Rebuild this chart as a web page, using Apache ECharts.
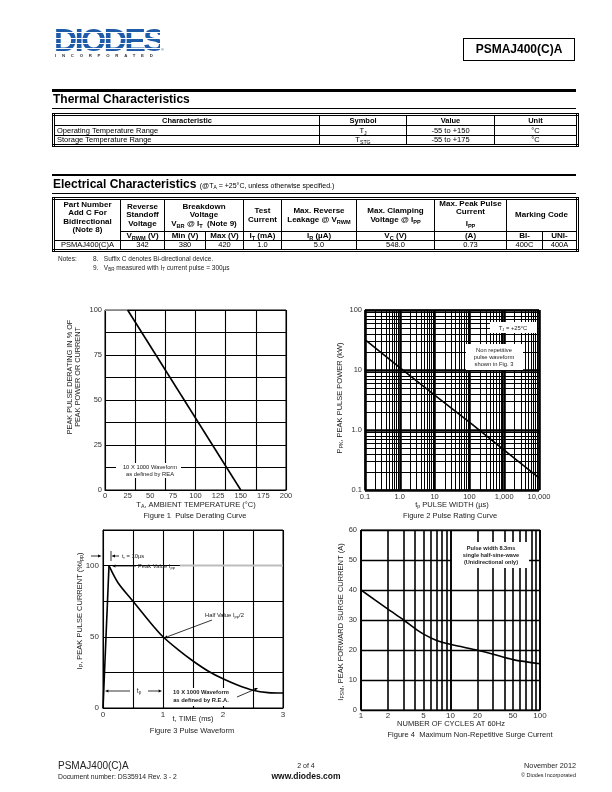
<!DOCTYPE html>
<html><head><meta charset="utf-8">
<script src="https://cdn.jsdelivr.net/npm/echarts@6/dist/echarts.min.js"></script>
<style>
html,body{margin:0;padding:0;background:#fff;}
#page{position:relative;width:612px;height:792px;overflow:hidden;font-family:'Liberation Sans',Arial,sans-serif;color:#000;}
#chart{position:absolute;left:0;top:0;width:612px;height:792px;}
.abs{position:absolute;white-space:nowrap;}
table.t{border-collapse:collapse;table-layout:fixed;position:absolute;border:3px double #000;}
table.t td{padding:0;border:1px solid #000;overflow:hidden;text-align:center;white-space:nowrap;}
sub{font-size:0.7em;vertical-align:-0.3em;line-height:0;}
.hd td{font-weight:bold;font-size:8px;line-height:8.3px;}
.th td{font-weight:bold;font-size:7.5px;line-height:9px;}
.dt td{font-size:7.5px;line-height:8px;}
.logo{position:absolute;left:54px;top:28px;width:106px;height:24px;font-family:'Liberation Sans',Arial,sans-serif;font-weight:bold;font-size:32px;letter-spacing:-2.4px;line-height:24px;
 background:repeating-linear-gradient(to bottom,#1d5aa7 0px,#1d5aa7 4.4px,#ffffff 4.4px,#ffffff 5.3px);-webkit-background-clip:text;background-clip:text;color:transparent;}
</style></head>
<body><div id="page">
<div id="chart"></div>

<!-- Header -->
<div class="logo">DIODES</div>
<div class="abs" style="left:161px;top:48px;font-size:4px;line-height:4px;color:#1d5aa7;">®</div>
<div class="abs" style="left:55px;top:53px;font-size:4.3px;line-height:5px;font-weight:bold;letter-spacing:5.75px;color:#333;">INCORPORATED</div>
<div class="abs" style="left:463px;top:38px;width:110px;height:21px;border:1.5px solid #000;font-size:12px;font-weight:bold;text-align:center;line-height:21px;">PSMAJ400(C)A</div>

<!-- Thermal -->
<div class="abs" style="left:52px;top:89px;width:524px;height:2.5px;background:#000;"></div>
<div class="abs" style="left:53px;top:92px;font-size:12px;font-weight:bold;line-height:15px;">Thermal Characteristics</div>
<div class="abs" style="left:52px;top:108px;width:524px;height:1px;background:#000;"></div>
<table class="t" style="left:52px;top:113px;width:524px;">
<colgroup><col style="width:266px"><col style="width:87px"><col style="width:88px"><col style="width:83px"></colgroup>
<tr class="th" style="height:9.5px"><td>Characteristic</td><td>Symbol</td><td>Value</td><td>Unit</td></tr>
<tr class="dt" style="height:10px"><td style="text-align:left;padding-left:2px;">Operating Temperature Range</td><td>T<sub>J</sub></td><td>-55 to +150</td><td>°C</td></tr>
<tr class="dt" style="height:10px"><td style="text-align:left;padding-left:2px;">Storage Temperature Range</td><td>T<sub>STG</sub></td><td>-55 to +175</td><td>°C</td></tr>
</table>

<!-- Electrical -->
<div class="abs" style="left:52px;top:173.5px;width:524px;height:2.5px;background:#000;"></div>
<div class="abs" style="left:53px;top:177px;font-size:12px;font-weight:bold;line-height:15px;">Electrical Characteristics <span style="font-size:7px;font-weight:normal;">(@T<sub>A</sub> = +25°C, unless otherwise specified.)</span></div>
<div class="abs" style="left:52px;top:193px;width:524px;height:1px;background:#000;"></div>
<table class="t" style="left:52px;top:197px;width:524px;">
<colgroup><col style="width:67px"><col style="width:44px"><col style="width:41px"><col style="width:38px"><col style="width:38px"><col style="width:75px"><col style="width:78px"><col style="width:72px"><col style="width:36px"><col style="width:35px"></colgroup>
<tr class="hd" style="height:33px">
<td rowspan="2" style="vertical-align:top;padding-top:1px;">Part Number<br>Add C For<br>Bidirectional<br>(Note 8)</td>
<td>Reverse<br>Standoff<br>Voltage</td>
<td colspan="2">Breakdown<br>Voltage<br>V<sub>BR</sub> @ I<sub>T</sub> &nbsp;(Note 9)</td>
<td>Test<br>Current</td>
<td>Max. Reverse<br>Leakage @ V<sub>RWM</sub></td>
<td>Max. Clamping<br>Voltage @ I<sub>PP</sub></td>
<td style="vertical-align:top;">Max. Peak Pulse<br>Current<br><span style="line-height:13px;">I<sub>PP</sub></span></td>
<td colspan="2">Marking Code</td>
</tr>
<tr class="hd" style="height:9px"><td>V<sub>RWM</sub> (V)</td><td>Min (V)</td><td>Max (V)</td><td>I<sub>T</sub> (mA)</td><td>I<sub>R</sub> (µA)</td><td>V<sub>C</sub> (V)</td><td>(A)</td><td>BI-</td><td>UNI-</td></tr>
<tr class="dt" style="height:8.5px"><td>PSMAJ400(C)A</td><td>342</td><td>380</td><td>420</td><td>1.0</td><td>5.0</td><td>548.0</td><td>0.73</td><td>400C</td><td>400A</td></tr>
</table>
<div class="abs" style="left:58px;top:254px;font-size:6.5px;line-height:9px;color:#222;">Notes:</div>
<div class="abs" style="left:93px;top:254px;font-size:6.5px;line-height:9px;color:#222;">8.&nbsp;&nbsp; Suffix C denotes Bi-directional device.<br>9.&nbsp;&nbsp; V<sub>BR</sub> measured with I<sub>T</sub> current pulse = 300µs</div>

<!-- Footer -->
<div class="abs" style="left:58px;top:760px;font-size:10px;line-height:12px;color:#222;">PSMAJ400(C)A</div>
<div class="abs" style="left:58px;top:773px;font-size:6.8px;line-height:8px;color:#222;">Document number: DS35914 Rev. 3 - 2</div>
<div class="abs" style="left:256px;width:100px;top:762px;font-size:7px;line-height:8px;text-align:center;color:#222;">2 of 4</div>
<div class="abs" style="left:256px;width:100px;top:771px;font-size:8.5px;line-height:10px;text-align:center;font-weight:bold;color:#111;">www.diodes.com</div>
<div class="abs" style="right:36px;top:762px;font-size:7.3px;line-height:8px;text-align:right;color:#222;">November 2012</div>
<div class="abs" style="right:36px;top:772px;font-size:5.5px;line-height:7px;text-align:right;color:#222;">© Diodes Incorporated</div>
</div>

<script>
// ---------------- DATA ----------------
// Figure 1 Pulse Derating Curve
const fig1TempTicks = [0, 25, 50, 75, 100, 125, 150, 175, 200];
const fig1PctTicks = [0, 25, 50, 75, 100];
const fig1FlatTemp = [0, 25];
const fig1FlatPct = [100, 100];
const fig1SlopeTemp = [25, 150];
const fig1SlopePct = [100, 0];

// Figure 2 Pulse Rating Curve
const fig2WidthUs = [0.1, 1, 10, 100, 1000, 10000];
const fig2PowerKW = [32, 11, 3.8, 1.35, 0.46, 0.16];
const fig2XTickLabels = ['0.1', '1.0', '10', '100', '1,000', '10,000'];
const fig2YTickLabels = ['0.1', '1.0', '10', '100'];

// Figure 3 Pulse Waveform
const fig3TimeMs = [0, 0.1, 0.25, 0.5, 0.75, 1.0, 1.25, 1.5, 1.75, 2.0, 2.25, 2.5, 2.75, 3.0];
const fig3CurrentPct = [0, 100, 88, 75, 62, 50, 41, 33, 26, 20.5, 16, 12.5, 10.8, 10.5];
const fig3PeakRefTime = [1.28, 3];
const fig3PeakRefPct = [100, 100];

// Figure 4 Maximum Non-Repetitive Surge Current
const fig4Cycles = [1, 2, 3, 4, 5, 7, 10, 20, 30, 50, 100];
const fig4SurgeA = [40, 33.6, 30, 27.2, 25.3, 23.2, 21.9, 19.9, 18.6, 16.8, 15.4];
const fig4TickLabels = [1, 2, 5, 10, 20, 50, 100];

// ---------------- HELPERS ----------------
const FF = 'Liberation Sans, Arial, sans-serif';
const zip = (a, b) => a.map((v, i) => [v, b[i]]);
const LBL = {fontFamily: FF, fontSize: 7.5, color: '#333'};
const CURVE = {color: '#000', width: 1.6, type: 'solid', opacity: 1};
function rich(fs, fw, lh) {
  return {
    s: {fontSize: fs * 0.7, fontFamily: FF, fontWeight: fw || 'normal', fill: '#222', verticalAlign: 'bottom', lineHeight: lh},
    n: {fontSize: fs, fontFamily: FF, fontWeight: fw || 'normal', fill: '#222', lineHeight: lh}
  };
}
function T(x, y, text, o) {
  o = o || {};
  const fs = o.fs || 7.5;
  const lh = o.lh || Math.round(fs * 1.2);
  return {type: 'text', x: x, y: y, rotation: o.rot || 0, z: 101, silent: true,
    style: {text: text, fontFamily: FF, fontSize: fs, fontWeight: o.fw || 'normal', fill: o.color || '#222',
      align: o.align || 'center', verticalAlign: 'middle', lineHeight: lh, rich: rich(fs, o.fw, lh)}};
}
function R(x, y, w, h) {
  return {type: 'rect', z: 100, silent: true, shape: {x: x, y: y, width: w, height: h}, style: {fill: '#fff'}};
}
function L(x1, y1, x2, y2, w) {
  return {type: 'line', z: 101, silent: true, shape: {x1: x1, y1: y1, x2: x2, y2: y2}, style: {stroke: '#000', lineWidth: w || 0.8}};
}
function A(x1, y1, x2, y2) {
  const ang = Math.atan2(y2 - y1, x2 - x1), Ln = 3.5, W = 1.5;
  const bx = x2 - Ln * Math.cos(ang), by = y2 - Ln * Math.sin(ang);
  const px = -Math.sin(ang) * W, py = Math.cos(ang) * W;
  return [L(x1, y1, bx, by), {type: 'polygon', z: 101, silent: true,
    shape: {points: [[x2, y2], [bx + px, by + py], [bx - px, by - py]]}, style: {fill: '#000'}}];
}
const gridBase = {show: true, borderColor: '#000', borderWidth: 1, backgroundColor: 'transparent'};
const noTick = {show: false};
const blackLine = {show: true, lineStyle: {color: '#000', width: 1}};

// minor log grid values for Figure 2 and Figure 4
function minors(fromExp, toExp) {
  const out = [];
  for (let e = fromExp; e < toExp; e++) for (let k = 2; k <= 9; k++) out.push(+(k * Math.pow(10, e)).toPrecision(6));
  return out;
}
const fig2XMinor = minors(-1, 4);
const fig2YMinor = minors(-1, 2);
const fig4XLines = [1].concat(minors(0, 2)).concat([10, 100]);

const chart = echarts.init(document.getElementById('chart'), null, {renderer: 'canvas'});

const option = {
  animation: false,
  grid: [
    Object.assign({left: 105, top: 310, width: 181, height: 180}, gridBase),
    Object.assign({left: 365, top: 310, width: 174, height: 180}, gridBase),
    Object.assign({left: 103, top: 530, width: 180, height: 178}, gridBase),
    Object.assign({left: 361, top: 530, width: 179, height: 180}, gridBase)
  ],
  xAxis: [
    {gridIndex: 0, type: 'value', min: fig1TempTicks[0], max: fig1TempTicks[fig1TempTicks.length - 1], interval: 25,
      axisLine: blackLine, axisTick: noTick, splitLine: {show: false}, axisLabel: Object.assign({margin: 2}, LBL)},
    {gridIndex: 0, type: 'value', position: 'top', min: 0, max: 200, interval: 200 / 6,
      axisLine: {show: false}, axisTick: noTick, axisLabel: {show: false},
      splitLine: {show: true, lineStyle: {color: '#000', width: 1.1}}},
    {gridIndex: 1, type: 'log', logBase: 10, min: 0.1, max: 10000,
      axisLine: blackLine, axisTick: noTick,
      axisLabel: Object.assign({margin: 3, formatter: v => fig2XTickLabels[Math.round(Math.log10(v)) + 1]}, LBL),
      splitLine: {show: true, lineStyle: {color: '#000', width: 2.6}}},
    {gridIndex: 2, type: 'value', min: 0, max: 3, interval: 0.5,
      axisLine: blackLine, axisTick: noTick,
      axisLabel: Object.assign({margin: 3, formatter: v => Math.abs(v - Math.round(v)) < 1e-9 ? String(Math.round(v)) : ''}, LBL, {fontSize: 8}),
      splitLine: {show: true, lineStyle: {color: '#000', width: 1.1}}},
    {gridIndex: 3, type: 'log', logBase: 10, min: 1, max: 100,
      axisLine: blackLine, axisTick: noTick, axisLabel: {show: false},
      splitLine: {show: true, lineStyle: {color: '#000', width: 1.6}}}
  ],
  yAxis: [
    {gridIndex: 0, type: 'value', min: 0, max: 100, interval: 25,
      axisLine: blackLine, axisTick: noTick, splitLine: {show: false}, axisLabel: Object.assign({margin: 3}, LBL)},
    {gridIndex: 0, type: 'value', position: 'right', min: 0, max: 100, interval: 12.5,
      axisLine: {show: false}, axisTick: noTick, axisLabel: {show: false},
      splitLine: {show: true, lineStyle: {color: '#000', width: 1.1}}},
    {gridIndex: 1, type: 'log', logBase: 10, min: 0.1, max: 100,
      axisLine: blackLine, axisTick: noTick,
      axisLabel: Object.assign({margin: 3, formatter: v => fig2YTickLabels[Math.round(Math.log10(v)) + 1]}, LBL),
      splitLine: {show: true, lineStyle: {color: '#000', width: 2.6}}},
    {gridIndex: 2, type: 'value', min: 0, max: 125, interval: 25,
      axisLine: blackLine, axisTick: noTick,
      axisLabel: Object.assign({margin: 4, formatter: v => (v % 50 === 0 && v <= 100) ? String(v) : ''}, LBL, {fontSize: 8}),
      splitLine: {show: true, lineStyle: {color: '#000', width: 1.1}}},
    {gridIndex: 3, type: 'value', min: 0, max: 60, interval: 10,
      axisLine: blackLine, axisTick: noTick, axisLabel: Object.assign({margin: 4}, LBL),
      splitLine: {show: true, lineStyle: {color: '#000', width: 1.3}}}
  ],
  series: [
    // Figure 1
    {type: 'line', xAxisIndex: 0, yAxisIndex: 0, data: zip(fig1FlatTemp, fig1FlatPct), symbol: 'none', z: 6, silent: true,
      lineStyle: {color: '#b4b4b4', width: 1.6, type: 'solid'}},
    {type: 'line', xAxisIndex: 0, yAxisIndex: 0, data: zip(fig1SlopeTemp, fig1SlopePct), symbol: 'none', z: 8, silent: true,
      lineStyle: CURVE},
    // Figure 2 minor grid (markLines) on an empty carrier series
    {type: 'line', xAxisIndex: 2, yAxisIndex: 2, data: [], symbol: 'none', z: 3, silent: true,
      markLine: {silent: true, symbol: ['none', 'none'], label: {show: false}, animation: false, z: 3,
        lineStyle: {color: '#000', width: 1, type: 'solid'},
        data: fig2XMinor.map(v => ({xAxis: v})).concat(fig2YMinor.map(v => ({yAxis: v})))}},
    {type: 'line', xAxisIndex: 2, yAxisIndex: 2, data: zip(fig2WidthUs, fig2PowerKW), symbol: 'none', z: 8, silent: true,
      lineStyle: CURVE},
    // Figure 3
    {type: 'line', xAxisIndex: 3, yAxisIndex: 3, data: zip(fig3TimeMs, fig3CurrentPct).slice(0, 2), symbol: 'none', z: 8, silent: true,
      lineStyle: CURVE},
    {type: 'line', xAxisIndex: 3, yAxisIndex: 3, data: zip(fig3TimeMs, fig3CurrentPct).slice(1), symbol: 'none', z: 8, silent: true,
      smooth: 0.3, lineStyle: CURVE},
    {type: 'line', xAxisIndex: 3, yAxisIndex: 3, data: zip(fig3PeakRefTime, fig3PeakRefPct), symbol: 'none', z: 5, silent: true,
      lineStyle: {color: '#bdbdbd', width: 2, type: 'solid'}},
    // Figure 4 vertical grid + labels (markLines) on an empty carrier series
    {type: 'line', xAxisIndex: 4, yAxisIndex: 4, data: [], symbol: 'none', z: 3, silent: true,
      markLine: {silent: true, symbol: ['none', 'none'], animation: false, z: 3,
        lineStyle: {color: '#000', width: 1.6, type: 'solid'},
        label: Object.assign({position: 'start', distance: 2, formatter: p => String(p.value)}, LBL, {fontSize: 8}),
        data: fig4XLines.map(v => ({xAxis: v, label: {show: fig4TickLabels.indexOf(v) >= 0}}))}},
    {type: 'line', xAxisIndex: 4, yAxisIndex: 4, data: zip(fig4Cycles, fig4SurgeA), symbol: 'none', z: 8, silent: true,
      smooth: 0.3, lineStyle: CURVE}
  ],
  graphic: [
    // ---- Figure 1 texts
    T(74, 377, 'PEAK PULSE DERATING IN % OF\nPEAK POWER OR CURRENT', {rot: Math.PI / 2, lh: 8.5, fs: 7.3}),
    T(196, 505, 'T{s|A}, AMBIENT TEMPERATURE (°C)', {lh: 8}),
    T(195, 515.5, 'Figure 1  Pulse Derating Curve', {lh: 8}),
    R(116, 463, 65, 15),
    T(150, 467, '10 X 1000 Waveform', {fs: 5.8}),
    T(150, 474, 'as defined by REA', {fs: 5.8}),
    // ---- Figure 2 texts
    T(340, 398, 'P{s|PK}, PEAK PULSE POWER (kW)', {rot: Math.PI / 2}),
    T(452, 505, 't{s|p} PULSE WIDTH (µs)', {lh: 8}),
    T(450, 516, 'Figure 2 Pulse Rating Curve', {lh: 8}),
    R(490, 322, 47, 11),
    T(513, 328, 'T{s|J} = +25°C', {fs: 5.8}),
    R(466, 344, 57, 26),
    T(494, 350, 'Non repetitive', {fs: 5.8, lh: 7}),
    T(494, 357, 'pulse waveform', {fs: 5.8, lh: 7}),
    T(494, 364, 'shown in Fig. 3', {fs: 5.8, lh: 7}),
    // ---- Figure 3 texts
    T(80, 611, 'I{s|P}, PEAK PULSE CURRENT (%I{s|pp})', {rot: Math.PI / 2}),
    T(193, 719, 't, TIME (ms)', {lh: 8}),
    T(192, 731, 'Figure 3 Pulse Waveform', {lh: 8}),
    ...A(91, 556, 101.5, 556),
    L(111, 551, 111, 561),
    ...A(119, 556, 111.5, 556),
    T(122, 556, 't{s|r} = 10µs', {fs: 5.8, align: 'left'}),
    ...A(136, 566, 112, 566),
    T(138, 566, 'Peak Value I{s|pp}', {fs: 5.8, align: 'left'}),
    T(205, 615, 'Half Value I{s|pp}/2', {fs: 5.8, align: 'left'}),
    ...A(212, 620, 164, 638),
    ...A(130, 691, 105, 691),
    ...A(148, 691, 162, 691),
    T(139, 691, 't{s|p}', {fs: 6.5}),
    R(166, 688, 70, 18),
    T(201, 692, '10 X 1000 Waveform', {fs: 5.8, fw: 'bold', lh: 7}),
    T(201, 700, 'as defined by R.E.A.', {fs: 5.8, fw: 'bold', lh: 7}),
    ...A(237, 697, 258, 688),
    // ---- Figure 4 texts
    T(341, 622, 'I{s|FSM}, PEAK FORWARD SURGE CURRENT (A)', {rot: Math.PI / 2}),
    T(451, 724, 'NUMBER OF CYCLES AT 60Hz', {lh: 8}),
    T(470, 735, 'Figure 4  Maximum Non-Repetitive Surge Current', {lh: 8}),
    R(452, 542, 77, 26),
    T(491, 548, 'Pulse width 8.3ms', {fs: 5.6, fw: 'bold', lh: 7}),
    T(491, 555, 'single half-sine-wave', {fs: 5.6, fw: 'bold', lh: 7}),
    T(491, 562, '(Unidirectional only)', {fs: 5.6, fw: 'bold', lh: 7})
  ]
};
chart.setOption(option);
</script>
</body></html>
